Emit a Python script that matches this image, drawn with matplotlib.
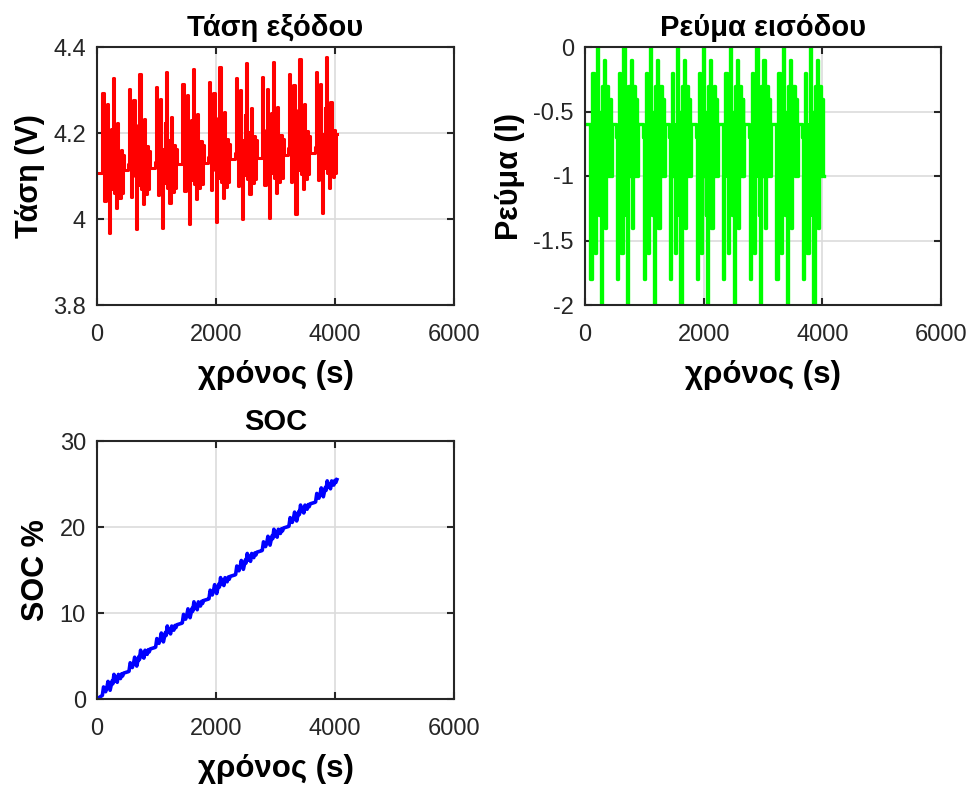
import numpy as np
import matplotlib
matplotlib.use("Agg")
import matplotlib.pyplot as plt

plt.rcParams['font.family'] = ['Liberation Sans', 'DejaVu Sans']

# one test cycle (repeated 9 times, ~448 s each)
step_dur = [80, 10, 20, 15, 20, 20, 20, 15, 20, 20, 15, 10, 20, 20, 15, 20, 20, 15, 20, 20, 15, 18]
i_cycle = [-0.6, -0.7, -1.8, -1.0, -0.2, -1.0, -1.6, -0.6, 0.0, -1.0, -1.3,
           -0.5, -2.0, -0.3, -1.0, -0.1, -1.4, -0.6, -0.3, -1.0, -0.4, -1.0]
v_cycle = [4.106, 4.12, 4.294, 4.17, 4.043, 4.16, 4.267, 4.09, 3.967, 4.15, 4.21,
           4.07, 4.329, 4.06, 4.17, 4.025, 4.224, 4.10, 4.05, 4.16, 4.06, 4.15]
# plateau voltage drift per cycle
v_shift = [0, 0.009, 0.013, 0.021, 0.025, 0.033, 0.036, 0.044, 0.048]
# ripple seen on the SOC trace, per step
soc_ripple = [0, 0, 0.7, 0.4, 0, 0.3, 0.8, 0.2, -0.3, 0.2, 0.5,
              0.1, 0.9, 0.1, 0.4, -0.2, 0.5, 0.1, -0.1, 0.3, 0, 0.2]
n_cycles = 9
capacity_ah = 3.61

dur = np.tile(step_dur, n_cycles)
cur = np.tile(i_cycle, n_cycles)
volt = np.tile(v_cycle, n_cycles) + np.repeat(v_shift, len(v_cycle))
t = np.concatenate([[0], np.cumsum(dur)])

cur_s = np.append(cur, cur[-1])
volt_s = np.append(volt, volt[-1])
soc = np.concatenate([[0], np.cumsum(-cur * dur) / 3600 / capacity_ah * 100])
soc = soc + np.concatenate([[0], np.tile(soc_ripple, n_cycles)])

fig = plt.figure(figsize=(9.73, 7.87), dpi=100)
W, H = 973, 787


def make_ax(x0, y0, x1, y1):
    return fig.add_axes([x0 / W, 1 - y1 / H, (x1 - x0) / W, (y1 - y0) / H])


ax1 = make_ax(97, 47, 454, 305)
ax2 = make_ax(585, 47, 941, 305)
ax3 = make_ax(97, 441, 454, 699)

ax1.plot(t, volt_s, color='#FF0000', lw=2.2, drawstyle='steps-post')
ax2.plot(t, cur_s, color='#00FF00', lw=2.4, drawstyle='steps-post')
ax3.plot(t, soc, color='#0000FF', lw=2.6)

ax1.set_ylim(3.8, 4.4)
ax1.set_yticks([3.8, 4.0, 4.2, 4.4])
ax1.set_yticklabels(['3.8', '4', '4.2', '4.4'])
ax2.set_ylim(-2, 0)
ax2.set_yticks([-2, -1.5, -1, -0.5, 0])
ax2.set_yticklabels(['-2', '-1.5', '-1', '-0.5', '0'])
ax3.set_ylim(0, 30)
ax3.set_yticks([0, 10, 20, 30])

titles = ['Τάση εξόδου', 'Ρεύμα εισόδου', 'SOC']
ylabels = ['Τάση (V)', 'Ρεύμα (I)', 'SOC %']
for ax, ttl, yl in zip([ax1, ax2, ax3], titles, ylabels):
    ax.set_xlim(0, 6000)
    ax.set_xticks([0, 2000, 4000, 6000])
    ax.set_title(ttl, fontsize=21, fontweight='bold', pad=8)
    ax.set_xlabel('χρόνος (s)', fontsize=22.5, fontweight='bold', labelpad=10)
    ax.set_ylabel(yl, fontsize=22, fontweight='bold', labelpad=6)
    ax.grid(True, color='#DCDCDC', lw=1.2)
    ax.set_axisbelow(True)
    ax.tick_params(direction='in', top=True, right=True, labelsize=17,
                   length=5, width=1.5, pad=8, color='#262626', labelcolor='#262626')
    ax.tick_params(axis='x', pad=14)
    for sp in ax.spines.values():
        sp.set_color('#262626')
        sp.set_linewidth(1.5)

fig.savefig('out.png', dpi=100)
